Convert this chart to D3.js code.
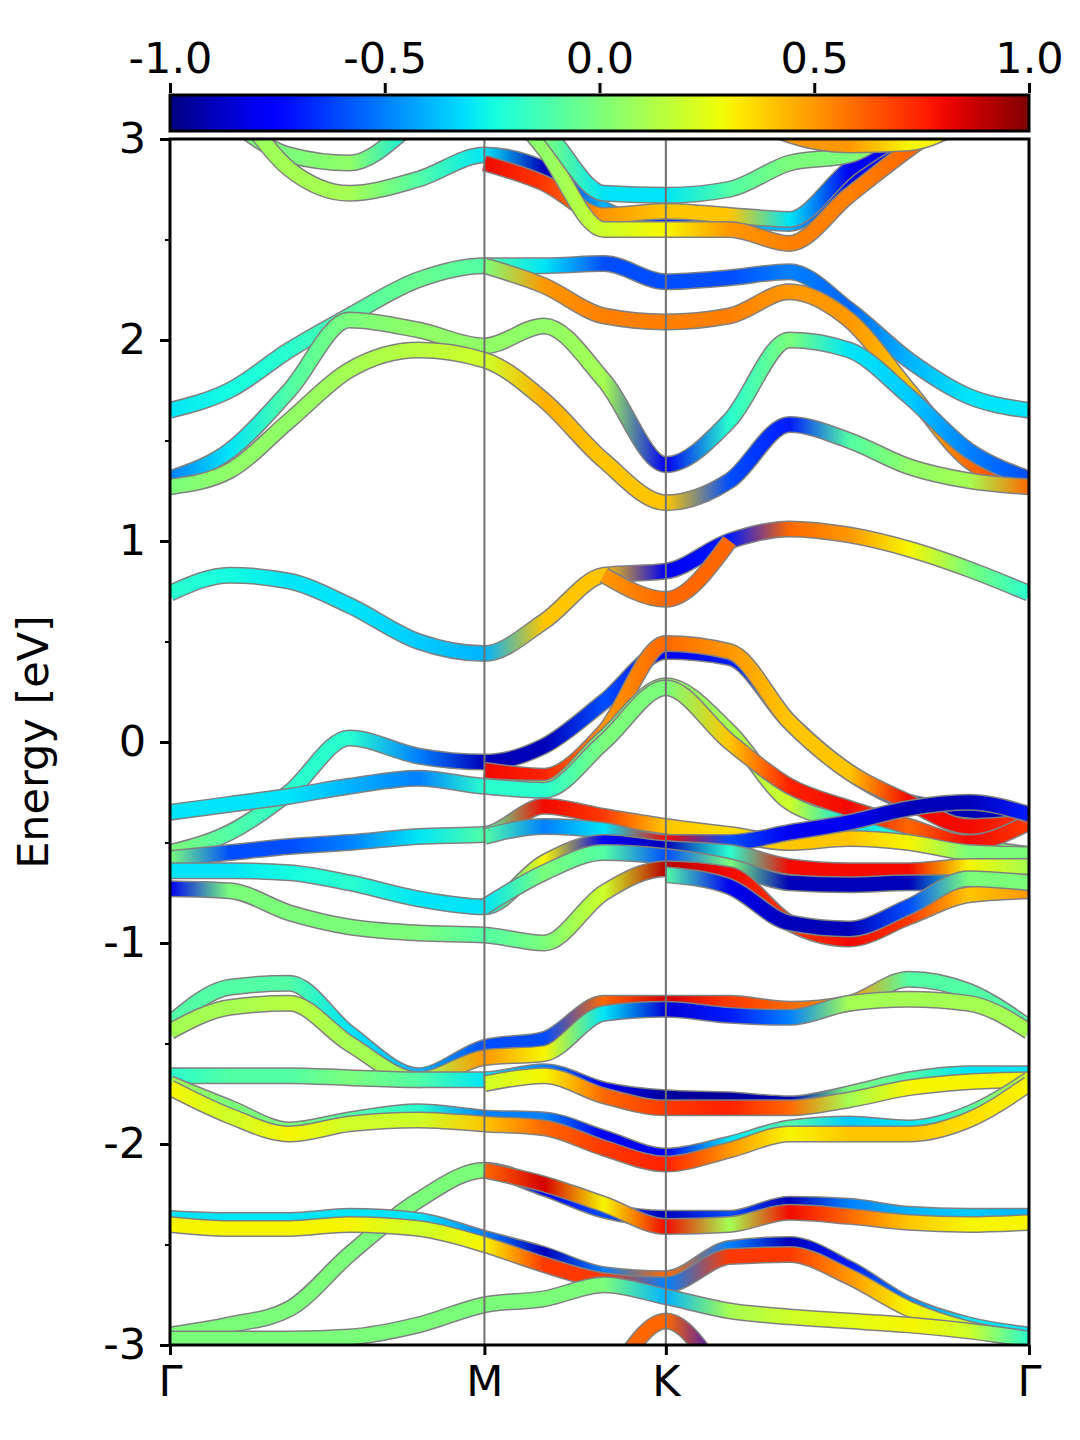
<!DOCTYPE html>
<html>
<head>
<meta charset="utf-8">
<script src="https://cdn.jsdelivr.net/npm/d3@7"></script>
<style>
body { margin: 0; background: white; }
text { font-family: "DejaVu Sans", sans-serif; }
</style>
</head>
<body>
<script>
// k-path: Γ - M - K - Γ (hexagonal)
var kTicks = [0, 1, 1.577, 2.732]
var kLabels = ["Γ", "M", "K", "Γ"]
// sample columns along the path
var kCols = [0, 0.19, 0.38, 0.57, 0.79, 1.0, 1.19, 1.38, 1.577, 1.78, 1.97, 2.16, 2.35, 2.54, 2.732]
var energyTicks = [-3, -2, -1, 0, 1, 2, 3]
var cbarTicks = [-1.0, -0.5, 0.0, 0.5, 1.0]
var _ = null

// each band: energies (eV) at kCols, and projection value (-1..1)
var bands = [
	{E: [3.4, 3.1, 2.92, 2.88, 3.1, 3.4, _, _, _, _, _, _, _, _, _],
	 c: [0, 0, 0, 0.05, -0.3, -0.3, _, _, _, _, _, _, _, _, _]},
	{E: [3.5, 3.2, 2.85, 2.73, 2.8, 2.92, 2.85, 2.65, 2.57, 2.6, 2.58, 2.8, 3.0, 3.2, _],
	 c: [0, 0.05, 0.1, 0.1, -0.1, -0.3, -0.9, -0.4, -0.7, -0.4, -0.4, -0.8, -0.8, -0.8, _]},
	{E: [_, _, _, _, _, 2.88, 2.78, 2.62, 2.64, 2.62, 2.6, 2.85, 3.05, 3.3, _],
	 c: [_, _, _, _, _, 0.8, 0.7, 0.5, 0.4, 0.4, -0.3, -0.8, -0.8, -0.8, _]},
	{E: [_, _, _, _, _, 3.3, 2.95, 2.55, 2.55, 2.55, 2.48, 2.72, 2.95, 3.15, _],
	 c: [_, _, _, _, _, 0, 0.05, 0.2, 0.3, 0.5, 0.55, 0.55, 0.6, 0.6, _]},
	{E: [_, _, _, _, _, 3.3, 3.05, 2.73, 2.72, 2.75, 2.88, 2.92, 3.1, 3.3, _],
	 c: [_, _, _, _, _, 0, 0, -0.3, -0.3, -0.1, 0, 0, 0.1, 0.1, _]},
	{E: [_, _, _, _, _, _, _, _, _, 3.2, 3.02, 2.97, 2.98, 3.1, _],
	 c: [_, _, _, _, _, _, _, _, _, 0.5, 0.5, 0.5, 0.3, 0.3, _]},
	// 1.2 .. 2.4 eV
	{E: [1.65, 1.75, 1.95, 2.12, 2.3, 2.37, 2.37, 2.38, 2.29, 2.31, 2.34, 2.15, 1.9, 1.72, 1.65],
	 c: [-0.3, -0.25, -0.2, -0.1, -0.05, -0.1, -0.3, -0.6, -0.6, -0.6, -0.5, -0.55, -0.4, -0.3, -0.3]},
	{E: [_, _, _, _, _, 2.37, 2.27, 2.12, 2.09, 2.12, 2.24, 2.1, 1.75, 1.4, 1.28],
	 c: [_, _, _, _, _, 0, 0.5, 0.55, 0.55, 0.55, 0.5, 0.5, 0.4, 0.6, 0.7]},
	{E: [1.31, 1.45, 1.75, 2.1, 2.05, 1.97, 2.07, 1.8, 1.38, 1.6, 2.0, 1.95, 1.72, 1.45, 1.31],
	 c: [-0.5, -0.3, -0.1, 0, 0.05, 0.05, 0.05, 0.1, -0.8, -0.2, 0, -0.3, -0.35, -0.5, -0.6]},
	{E: [1.27, 1.35, 1.6, 1.85, 1.95, 1.9, 1.7, 1.4, 1.19, 1.3, 1.58, 1.5, 1.37, 1.3, 1.27],
	 c: [0, 0.05, 0.05, 0.1, 0.15, 0.2, 0.45, 0.4, 0.4, -0.6, -0.7, -0.1, 0.05, 0.1, 0.6]},
	// conduction band near 1 eV
	{E: [0.74, 0.83, 0.8, 0.68, 0.5, 0.44, 0.6, 0.83, 0.85, 1.0, 1.06, 1.03, 0.96, 0.86, 0.74],
	 c: [-0.2, -0.25, -0.3, -0.3, -0.35, -0.4, 0.4, 0.4, -0.8, -0.7, 0.6, 0.5, 0.3, 0, -0.2]},
	{E: [_, _, _, _, _, _, _, 0.83, 0.71, 1.0, _, _, _, _, _],
	 c: [_, _, _, _, _, _, _, 0.5, 0.6, 0.6, _, _, _, _, _]},
	// valence bands
	{E: [-0.55, -0.45, -0.25, 0.02, -0.07, -0.1, -0.02, 0.2, 0.45, 0.42, 0.1, -0.15, -0.3, -0.34, -0.36],
	 c: [0, -0.1, -0.2, -0.2, -0.5, -0.9, -0.9, -0.6, -0.8, -0.7, -0.6, -0.5, -0.9, -0.9, -0.9]},
	{E: [_, _, _, _, _, -0.14, -0.17, 0.05, 0.49, 0.45, 0.1, -0.15, -0.3, -0.42, -0.4],
	 c: [_, _, _, _, _, 0.8, 0.75, 0.5, 0.6, 0.5, 0.4, 0.4, 0.8, 0.8, 0.7]},
	{E: [-0.35, -0.31, -0.27, -0.22, -0.18, -0.22, -0.23, 0.02, 0.28, 0.05, -0.3, -0.4, -0.47, -0.52, -0.56],
	 c: [-0.3, -0.3, -0.3, -0.4, -0.5, -0.2, 0.1, 0, 0.05, 0.1, 0.2, -0.3, -0.2, 0, 0]},
	{E: [_, _, _, _, _, -0.22, -0.24, 0, 0.27, 0, -0.22, -0.33, -0.42, -0.5, -0.4],
	 c: [_, _, _, _, _, -0.2, -0.2, 0, 0, 0.4, 0.75, 0.8, 0.6, 0.8, 0.7]},
	{E: [-0.58, -0.55, -0.52, -0.5, -0.47, -0.46, -0.32, -0.37, -0.42, -0.46, -0.5, -0.48, -0.5, -0.55, -0.56],
	 c: [0, -0.6, -0.6, -0.5, -0.3, -0.1, 0.8, 0.7, 0.4, 0.35, 0.4, 0.4, 0.3, 0, 0]},
	{E: [_, _, _, _, _, -0.47, -0.42, -0.44, -0.5, -0.5, -0.45, -0.4, -0.33, -0.3, -0.36],
	 c: [_, _, _, _, _, -0.1, -0.5, -0.3, 0.8, -0.6, -0.8, -0.8, -0.9, -0.9, -0.7]},
	{E: [-0.64, -0.64, -0.65, -0.7, -0.78, -0.82, -0.6, -0.5, -0.53, -0.55, -0.62, -0.64, -0.64, -0.62, -0.62],
	 c: [-0.3, -0.3, -0.25, -0.2, -0.3, -0.3, 0.3, -0.8, -0.9, -0.2, 0.8, 0.8, 0.8, 0.3, 0.1]},
	{E: [_, _, _, _, _, -0.82, -0.65, -0.55, -0.57, -0.62, -0.7, -0.71, -0.7, -0.7, -0.73],
	 c: [_, _, _, _, _, -0.3, 0, -0.1, -0.6, 0, -0.9, -0.9, -0.9, -0.2, -0.8]},
	{E: [-0.73, -0.74, -0.85, -0.92, -0.95, -0.96, -1.0, -0.75, -0.63, -0.66, -0.9, -0.98, -0.87, -0.76, -0.74],
	 c: [-0.8, 0, 0, 0, 0, -0.1, 0, 0.2, 0.9, 0.8, 0.7, 0.8, 0.7, 0.4, 0.5]},
	{E: [_, _, _, _, _, _, _, _, -0.66, -0.72, -0.9, -0.93, -0.82, -0.68, -0.7],
	 c: [_, _, _, _, _, _, _, _, -0.1, -0.8, -0.9, -0.9, -0.6, 0, 0]},
	// -1.2 .. -2.1 eV
	{E: [-1.4, -1.22, -1.2, -1.45, -1.66, -1.52, -1.48, -1.3, -1.3, -1.3, -1.33, -1.3, -1.18, -1.24, -1.42],
	 c: [-0.1, -0.1, -0.1, -0.3, -0.4, -0.6, -0.6, 0.6, 0.85, 0.7, 0.6, 0.5, -0.1, -0.1, -0.1]},
	{E: [-1.44, -1.32, -1.3, -1.5, -1.68, -1.57, -1.55, -1.35, -1.33, -1.36, -1.37, -1.3, -1.28, -1.3, -1.44],
	 c: [0.1, 0.1, 0.15, 0.1, 0.1, 0.5, 0.3, -0.3, -0.85, -0.7, -0.5, 0.1, 0.1, 0.1, 0.1]},
	{E: [-1.66, -1.66, -1.66, -1.67, -1.68, -1.68, -1.64, -1.73, -1.77, -1.78, -1.8, -1.75, -1.68, -1.65, -1.65],
	 c: [-0.2, -0.1, -0.1, 0, -0.1, -0.3, -0.5, -0.8, -0.95, -0.95, -0.9, 0, -0.1, -0.3, -0.3]},
	{E: [_, _, _, _, _, -1.7, -1.66, -1.76, -1.82, -1.82, -1.82, -1.78, -1.72, -1.69, -1.68],
	 c: [_, _, _, _, _, 0.2, 0.3, 0.6, 0.7, 0.75, 0.6, 0.1, 0.3, 0.3, 0.3]},
	{E: [-1.7, -1.82, -1.93, -1.88, -1.84, -1.87, -1.88, -1.97, -2.06, -2.0, -1.92, -1.9, -1.92, -1.85, -1.68],
	 c: [0.1, 0, 0, -0.1, -0.2, -0.5, -0.5, -0.8, -0.8, -0.3, -0.1, -0.35, -0.3, -0.1, 0.2]},
	{E: [-1.72, -1.86, -1.95, -1.9, -1.88, -1.9, -1.92, -2.02, -2.1, -2.03, -1.95, -1.95, -1.95, -1.88, -1.7],
	 c: [0.3, 0.2, 0.3, 0.2, 0.2, 0.4, 0.6, 0.7, 0.75, 0.5, 0.3, 0.4, 0.4, 0.35, 0.3]},
	// -2.1 .. -3 eV
	{E: [-2.95, -2.9, -2.82, -2.55, -2.28, -2.13, -2.22, -2.33, -2.37, -2.37, -2.3, -2.31, -2.35, -2.36, -2.36],
	 c: [0, 0, 0, 0, 0, 0, -0.8, -0.6, -0.9, -0.6, -0.9, -0.5, -0.4, -0.35, -0.4]},
	{E: [_, _, _, _, _, -2.13, -2.2, -2.3, -2.41, -2.4, -2.34, -2.36, -2.39, -2.4, -2.39],
	 c: [_, _, _, _, _, 0.6, 0.85, 0.3, 0.8, 0.1, 0.8, 0.6, 0.4, 0.3, 0.3]},
	{E: [-2.37, -2.38, -2.38, -2.36, -2.38, -2.47, -2.55, -2.65, -2.67, -2.52, -2.5, -2.62, -2.8, -2.9, -2.95],
	 c: [-0.3, -0.3, -0.3, -0.3, -0.3, -0.5, -0.9, -0.5, 0.6, -0.5, -0.9, -0.7, -0.5, -0.3, -0.3]},
	{E: [-2.4, -2.42, -2.42, -2.4, -2.42, -2.5, -2.6, -2.68, -2.7, -2.56, -2.55, -2.66, -2.82, -2.92, -2.97],
	 c: [0.3, 0.3, 0.3, 0.3, 0.2, 0.3, 0.7, 0.7, -0.5, 0.7, 0.7, 0.5, 0.3, 0.2, 0.1]},
	{E: [-2.97, -2.97, -2.97, -2.96, -2.9, -2.8, -2.77, -2.7, -2.76, -2.83, -2.86, -2.88, -2.9, -2.93, -2.97],
	 c: [0, 0, 0, 0, 0, 0, 0, 0, -0.4, 0.1, 0.2, 0.25, 0.3, 0.2, -0.2]},
	{E: [_, _, _, _, _, _, _, -3.25, -2.88, -3.25, _, _, _, _, _],
	 c: [_, _, _, _, _, _, _, 0.6, 0.6, -0.8, _, _, _, _, _]}
]

// matplotlib "jet"
var jr = d3.scaleLinear().domain([0, 0.35, 0.66, 0.89, 1]).range([0, 0, 1, 1, 0.5]).clamp(true)
var jg = d3.scaleLinear().domain([0, 0.125, 0.375, 0.64, 0.91, 1]).range([0, 0, 1, 1, 0, 0]).clamp(true)
var jb = d3.scaleLinear().domain([0, 0.11, 0.34, 0.65, 1]).range([0.5, 1, 1, 0, 0]).clamp(true)
function jet(v) {
	var t = (v + 1) / 2
	return d3.rgb(jr(t) * 255, jg(t) * 255, jb(t) * 255).formatHex()
}
function hyphen(s) { return s.replace("\u2212", "-") }

var W = 1080, H = 1440
var pLeft = 170, pRight = 1029, pTop = 139, pBottom = 1345

var xScale = d3.scaleLinear().domain([0, 2.732]).range([pLeft, pRight])
var yScale = d3.scaleLinear().domain([-3, 3]).range([pBottom, pTop])

var svg = d3.select("body").append("svg").attr("width", W).attr("height", H)
var defs = svg.append("defs")

defs.append("clipPath").attr("id", "plotclip")
	.append("rect").attr("x", pLeft).attr("y", pTop)
	.attr("width", pRight - pLeft).attr("height", pBottom - pTop)

var line = d3.line()
	.defined((d) => d.E != null)
	.x((d) => xScale(d.k))
	.y((d) => yScale(d.E))
	.curve(d3.curveMonotoneX)

var g = svg.append("g").attr("clip-path", "url(#plotclip)")

bands.forEach(function(b, i) {
	var pts = kCols.map((k, j) => ({k: k, E: b.E[j], c: b.c[j]}))
	var grad = defs.append("linearGradient")
		.attr("id", "band" + i)
		.attr("gradientUnits", "userSpaceOnUse")
		.attr("x1", pLeft).attr("x2", pRight).attr("y1", 0).attr("y2", 0)
	pts.filter((d) => d.E != null).forEach(function(d) {
		grad.append("stop")
			.attr("offset", (xScale(d.k) - pLeft) / (pRight - pLeft))
			.attr("stop-color", jet(d.c))
	})
	g.append("path").datum(pts).attr("d", line)
		.attr("fill", "none").attr("stroke", "#808080").attr("stroke-width", 17)
	g.append("path").datum(pts).attr("d", line)
		.attr("fill", "none").attr("stroke", "url(#band" + i + ")").attr("stroke-width", 14)
})

// high-symmetry lines
svg.selectAll(".kline")
	.data(kTicks.slice(1, 3))
	.enter().append("line")
	.attr("x1", (d) => xScale(d)).attr("x2", (d) => xScale(d))
	.attr("y1", pTop).attr("y2", pBottom)
	.attr("stroke", "#707070").attr("stroke-width", 2)

// frame
svg.append("rect").attr("x", pLeft).attr("y", pTop)
	.attr("width", pRight - pLeft).attr("height", pBottom - pTop)
	.attr("fill", "none").attr("stroke", "black").attr("stroke-width", 3)

// y axis
var yAxis = d3.axisLeft(yScale).tickValues(energyTicks).tickFormat((d) => hyphen(d3.format("d")(d))).tickSize(10).tickPadding(14)
var ya = svg.append("g").attr("transform", "translate(" + pLeft + ",0)").call(yAxis)
ya.select(".domain").remove()
ya.selectAll("line").attr("stroke-width", 3)
ya.selectAll("text").style("font-size", "43px").attr("fill", "black")
var yMinor = d3.axisLeft(yScale).tickValues([-2.5, -1.5, -0.5, 0.5, 1.5, 2.5]).tickFormat("").tickSize(5)
var ym = svg.append("g").attr("transform", "translate(" + pLeft + ",0)").call(yMinor)
ym.select(".domain").remove()
ym.selectAll("line").attr("stroke-width", 2)

svg.append("text")
	.attr("transform", "translate(48," + yScale(0) + ") rotate(-90)")
	.attr("text-anchor", "middle")
	.style("font-size", "43px")
	.text("Energy [eV]")

// x axis
var xAxis = d3.axisBottom(xScale).tickValues(kTicks).tickFormat((d, i) => kLabels[i]).tickSize(10).tickPadding(10)
var xa = svg.append("g").attr("transform", "translate(0," + pBottom + ")").call(xAxis)
xa.select(".domain").remove()
xa.selectAll("line").attr("stroke-width", 3)
xa.selectAll("text").style("font-size", "43px").attr("fill", "black")

// colorbar
var cbY = 95, cbH = 36
var cScale = d3.scaleLinear().domain([-1, 1]).range([pLeft, pRight])
var cgrad = defs.append("linearGradient").attr("id", "cbar")
d3.range(0, 1.0001, 0.02).forEach(function(t) {
	cgrad.append("stop").attr("offset", t).attr("stop-color", jet(t * 2 - 1))
})
svg.append("rect").attr("x", pLeft).attr("y", cbY)
	.attr("width", pRight - pLeft).attr("height", cbH)
	.attr("fill", "url(#cbar)").attr("stroke", "black").attr("stroke-width", 3)
var cAxis = d3.axisTop(cScale).tickValues(cbarTicks).tickFormat((d) => hyphen(d3.format(".1f")(d))).tickSize(10).tickPadding(10)
var ca = svg.append("g").attr("transform", "translate(0," + (cbY - 2) + ")").call(cAxis)
ca.select(".domain").remove()
ca.selectAll("line").attr("stroke-width", 3)
ca.selectAll("text").style("font-size", "43px").attr("fill", "black")
</script>
</body>
</html>
